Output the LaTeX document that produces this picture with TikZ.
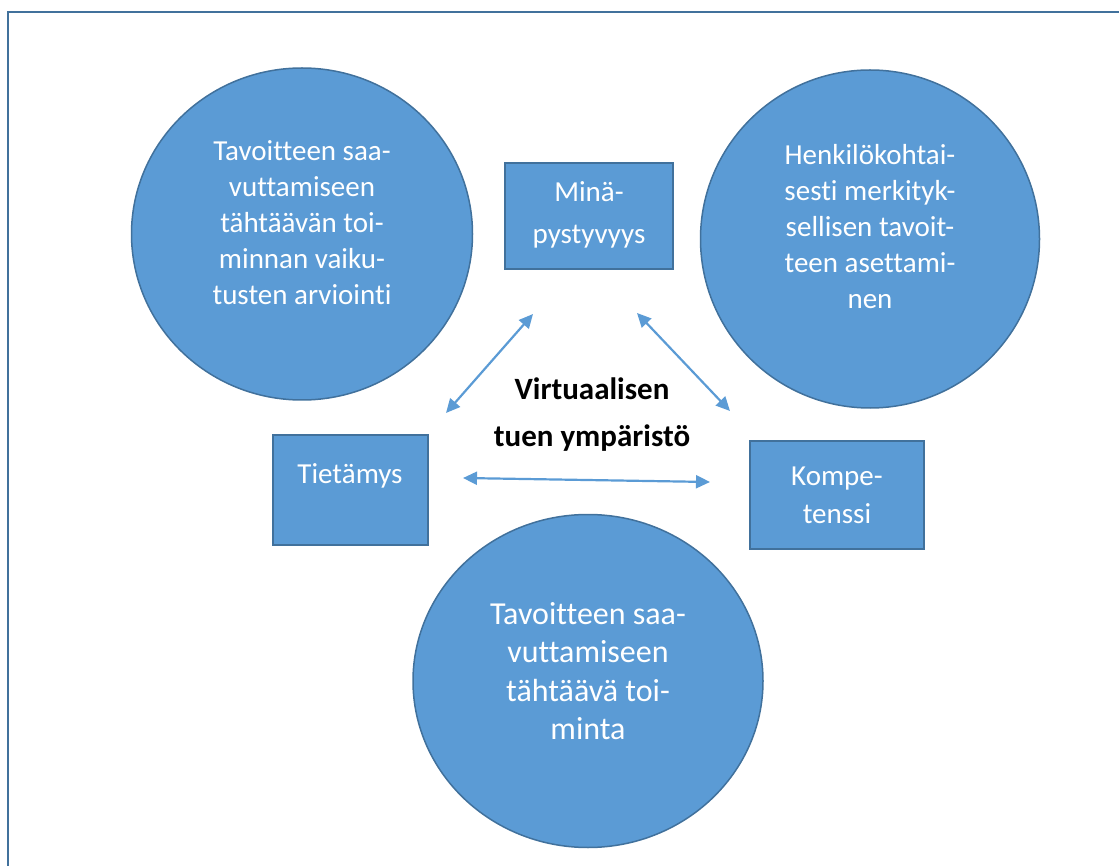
\documentclass[tikz,border=0pt]{standalone}
\usepackage{fontspec}
\setmainfont{Carlito}[Ligatures=CommonOff]
\usetikzlibrary{arrows.meta,shapes.geometric}

\definecolor{shapefill}{HTML}{5B9BD5}
\definecolor{shapeline}{HTML}{41719C}

\tikzset{
  blob/.style={ellipse, draw=shapeline, line width=1.5pt, fill=shapefill, inner sep=0pt},
  box/.style={rectangle, draw=shapeline, line width=2pt, fill=shapefill, inner sep=0pt},
  intext/.style={text=white, align=center, inner sep=0pt, font=\fontsize{29}{36}\selectfont},
  twoway/.style={draw=shapefill, line width=2.2pt,
    {Triangle[length=14pt,width=13pt]}-{Triangle[length=14pt,width=13pt]}},
  frame/.style={draw=shapeline, line width=2.2pt}
}

\begin{document}
\begin{tikzpicture}[x=1pt, y=-1pt]
	\useasboundingbox (0,0) rectangle (1119,866);
	\clip (0,0) rectangle (1119,866);
	\draw[frame] (8,12) rectangle (1140,890);

	% circles
	\node[blob, minimum width=341pt, minimum height=332pt] (arvio) at (302,234) {};
	\node[intext] (arvio-t) at (302,223) {Tavoitteen saa-\\vuttamiseen\\tähtäävän toi-\\minnan vaiku-\\tusten arviointi};
	\node[blob, minimum width=339pt, minimum height=338pt] (asetus) at (870,239) {};
	\node[intext] (asetus-t) at (870,227) {Henkilökohtai-\\sesti merkityk-\\sellisen tavoit-\\teen asettami-\\nen};
	\node[blob, minimum width=350pt, minimum height=333pt] (toiminta) at (588,681) {};
	\node[intext, font=\fontsize{32}{38.5}\selectfont] (toiminta-t) at (588,671) {Tavoitteen saa-\\vuttamiseen\\tähtäävä toi-\\minta};

	% boxes
	\node[box, minimum width=168pt, minimum height=106pt] (mina) at (589,216) {};
	\node[intext, font=\fontsize{29}{42}\selectfont] (mina-t) at (589,215) {Minä-\\pystyvyys};
	\node[box, minimum width=155pt, minimum height=110pt] (tieto) at (350.5,490) {};
	\node[intext] (tieto-t) at (350,476) {Tietämys};
	\node[box, minimum width=174pt, minimum height=108pt] (kompe) at (837,495) {};
	\node[intext, font=\fontsize{29}{38}\selectfont] (kompe-t) at (837,495) {Kompe-\\tenssi};

	\node[align=center, inner sep=0pt, font=\bfseries\fontsize{31}{47}\selectfont] (virtu) at (592,415) {Virtuaalisen\\tuen ympäristö};

	% arrows
	\coordinate (a1) at (446,413);
	\coordinate (b1) at (533,314);
	\coordinate (a2) at (637,313);
	\coordinate (b2) at (730,411);
	\coordinate (a3) at (463,478);
	\coordinate (b3) at (710,482);
	\draw[twoway] (a1) -- (b1);
	\draw[twoway] (a2) -- (b2);
	\draw[twoway] (a3) -- (b3);
\end{tikzpicture}
\end{document}
